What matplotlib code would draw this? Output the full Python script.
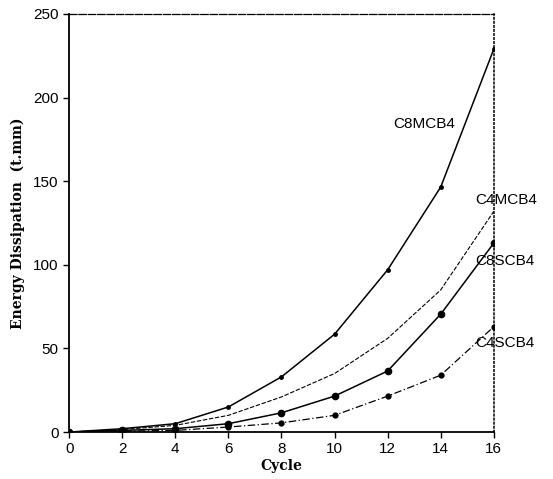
import numpy as np
import matplotlib.pyplot as plt

# data
cycles = [0, 2, 4, 6, 8, 10, 12, 14, 16]
c8mcb4 = [0, 2, 5, 15, 33, 58.5, 97, 146.5, 229]
c4mcb4 = [0, 1.5, 4, 10, 21, 35, 56, 85, 132]
c8scb4 = [0, 1, 2, 5, 11.5, 21.5, 36.5, 70.5, 113]
c4scb4 = [0, 0.5, 1, 3, 5.5, 10, 21.5, 34, 63]

fig = plt.figure(figsize=(5.53, 4.79), dpi=100)
ax = fig.add_axes([0.125, 0.098, 0.768, 0.873])

ax.plot(cycles, c8mcb4, color='black', lw=1.1, marker='o', ms=2.5)
ax.plot(cycles, c4mcb4, color='black', lw=0.8, ls=(0, (4, 1.5)))
ax.plot(cycles, c8scb4, color='black', lw=1.1, marker='o', ms=4.5)
ax.plot(cycles, c4scb4, color='black', lw=0.9, ls=(0, (6, 2, 1, 2)), marker='o', ms=3.5,
        mfc='black')

# curve labels
lab_font = dict(fontsize=11, family='Liberation Sans', va='center')
ax.text(12.2, 184, 'C8MCB4', **lab_font)
ax.text(15.3, 139, 'C4MCB4', **lab_font)
ax.text(15.3, 102, 'C8SCB4', **lab_font)
ax.text(15.3, 53, 'C4SCB4', **lab_font)

ax.set_xlim(0, 16)
ax.set_ylim(0, 250)
ax.set_xticks(np.arange(0, 17, 2))
ax.set_yticks(np.arange(0, 251, 50))
ax.tick_params(direction='out', length=4, width=1, labelsize=11)
for lab in ax.get_xticklabels() + ax.get_yticklabels():
    lab.set_family('Liberation Sans')

ax.spines['top'].set_linestyle((0, (6, 1.5)))
ax.spines['top'].set_linewidth(0.9)
ax.spines['right'].set_linestyle(':')
ax.spines['right'].set_linewidth(1.1)
ax.spines['left'].set_linewidth(1.3)
ax.spines['bottom'].set_linewidth(1.3)

ax.set_xlabel('Cycle', fontsize=10, fontweight='bold', family='DejaVu Serif', labelpad=2)
ax.set_ylabel('Energy Dissipation  (t.mm)', fontsize=10, fontweight='bold',
              family='DejaVu Serif', labelpad=6)

fig.savefig('out.png', dpi=100)
